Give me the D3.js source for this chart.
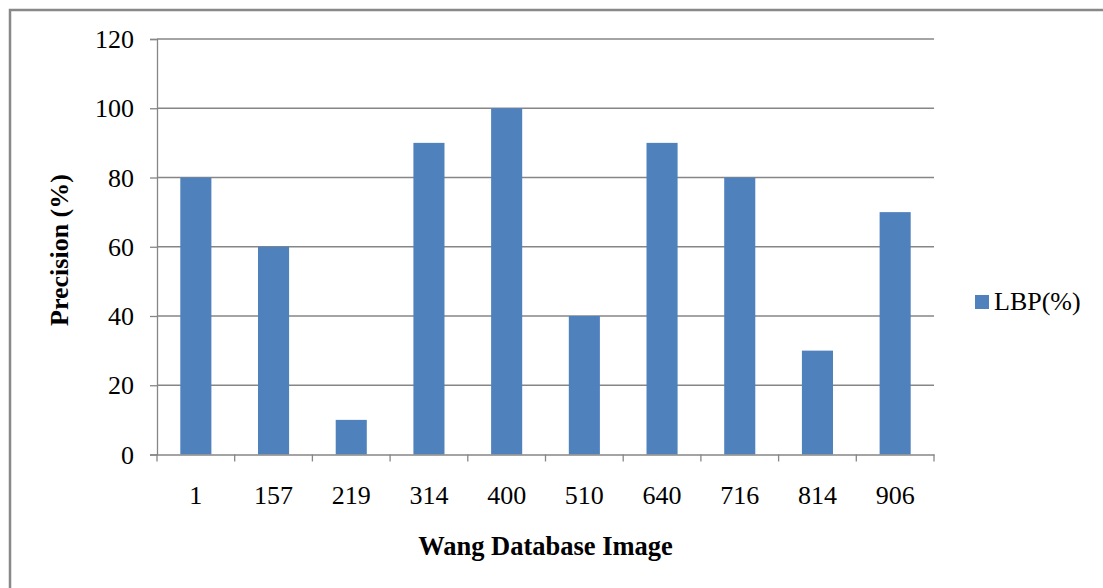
<!DOCTYPE html>
<html>
<head>
<meta charset="utf-8">
<script src="https://cdn.jsdelivr.net/npm/d3@7/dist/d3.min.js"></script>
<style>
  html, body { margin: 0; padding: 0; background: #fff; }
  svg { display: block; }
  text { font-family: "Liberation Serif", "Times New Roman", serif; fill: #000; }
</style>
</head>
<body>
<svg id="chart" width="1103" height="588"></svg>
<script>
// Precision of the LBP descriptor per query image
const categories = ["1", "157", "219", "314", "400", "510", "640", "716", "814", "906"];
const lbpValues = [80, 60, 10, 90, 100, 40, 90, 80, 30, 70];
const yTicks = [0, 20, 40, 60, 80, 100, 120];
const seriesName = "LBP(%)";

const svg = d3.select("#chart");
const W = 1103, H = 588;
const plot = { left: 157, right: 934, top: 39, bottom: 454.5 };
const gridColor = "#868686";
const barColor = "#4F81BD";

// outer chart frame
svg.append("rect")
  .attr("x", 10).attr("y", 10)
  .attr("width", W).attr("height", H)
  .attr("fill", "none").attr("stroke", "#888").attr("stroke-width", 2.5);

const x = d3.scaleBand().domain(categories).range([plot.left, plot.right]).paddingInner(0.6).paddingOuter(0.3);
const xOuter = d3.scaleBand().domain(categories).range([plot.left, plot.right]);
const y = d3.scaleLinear().domain([0, 120]).range([plot.bottom, plot.top]);

// horizontal gridlines
svg.append("g").selectAll("line").data(yTicks.filter(d => d > 0)).join("line")
  .attr("x1", plot.left).attr("x2", plot.right)
  .attr("y1", d => y(d)).attr("y2", d => y(d))
  .attr("stroke", gridColor).attr("stroke-width", 1.3);

// bars
svg.append("g").selectAll("rect").data(categories).join("rect")
  .attr("x", (d) => x(d))
  .attr("width", x.bandwidth())
  .attr("y", (d, i) => y(lbpValues[i]))
  .attr("height", (d, i) => y(0) - y(lbpValues[i]))
  .attr("fill", barColor);

// y axis
const yAxis = svg.append("g").attr("transform", `translate(${plot.left},0)`)
  .call(d3.axisLeft(y).tickValues(yTicks).tickSize(7).tickPadding(16).tickFormat(d3.format("d")));
yAxis.select(".domain").attr("stroke", gridColor).attr("stroke-width", 1.3);
yAxis.selectAll(".tick line").attr("stroke", gridColor).attr("stroke-width", 1.3);
yAxis.selectAll(".tick text").attr("font-size", 26).attr("font-family", "Liberation Serif, serif").attr("dy", "0.33em");

// x axis with ticks at category boundaries
const xAxis = svg.append("g").attr("transform", `translate(0,${plot.bottom})`)
  .call(d3.axisBottom(xOuter).tickSize(0));
xAxis.select(".domain").attr("stroke", gridColor).attr("stroke-width", 1.3);
xAxis.selectAll(".tick text").attr("font-size", 26).attr("font-family", "Liberation Serif, serif")
  .attr("y", 49).attr("dy", 0);
const boundaries = categories.map(c => xOuter(c)).concat([plot.right]);
xAxis.append("g").selectAll("line").data(boundaries).join("line")
  .attr("x1", d => d).attr("x2", d => d).attr("y1", 0).attr("y2", 7)
  .attr("stroke", gridColor).attr("stroke-width", 1.3);

// axis titles
svg.append("text")
  .attr("x", (plot.left + plot.right) / 2).attr("y", 555)
  .attr("text-anchor", "middle").attr("font-size", 26.5).attr("font-weight", "bold")
  .text("Wang Database Image");
svg.append("text")
  .attr("transform", `translate(68,250) rotate(-90)`)
  .attr("text-anchor", "middle").attr("font-size", 26).attr("font-weight", "bold")
  .text("Precision (%)");

// legend
const legend = svg.append("g").attr("transform", "translate(975,295)");
legend.append("rect").attr("width", 14).attr("height", 14).attr("fill", barColor);
legend.append("text").attr("x", 19).attr("y", 15).attr("font-size", 26).text(seriesName);
</script>
</body>
</html>
